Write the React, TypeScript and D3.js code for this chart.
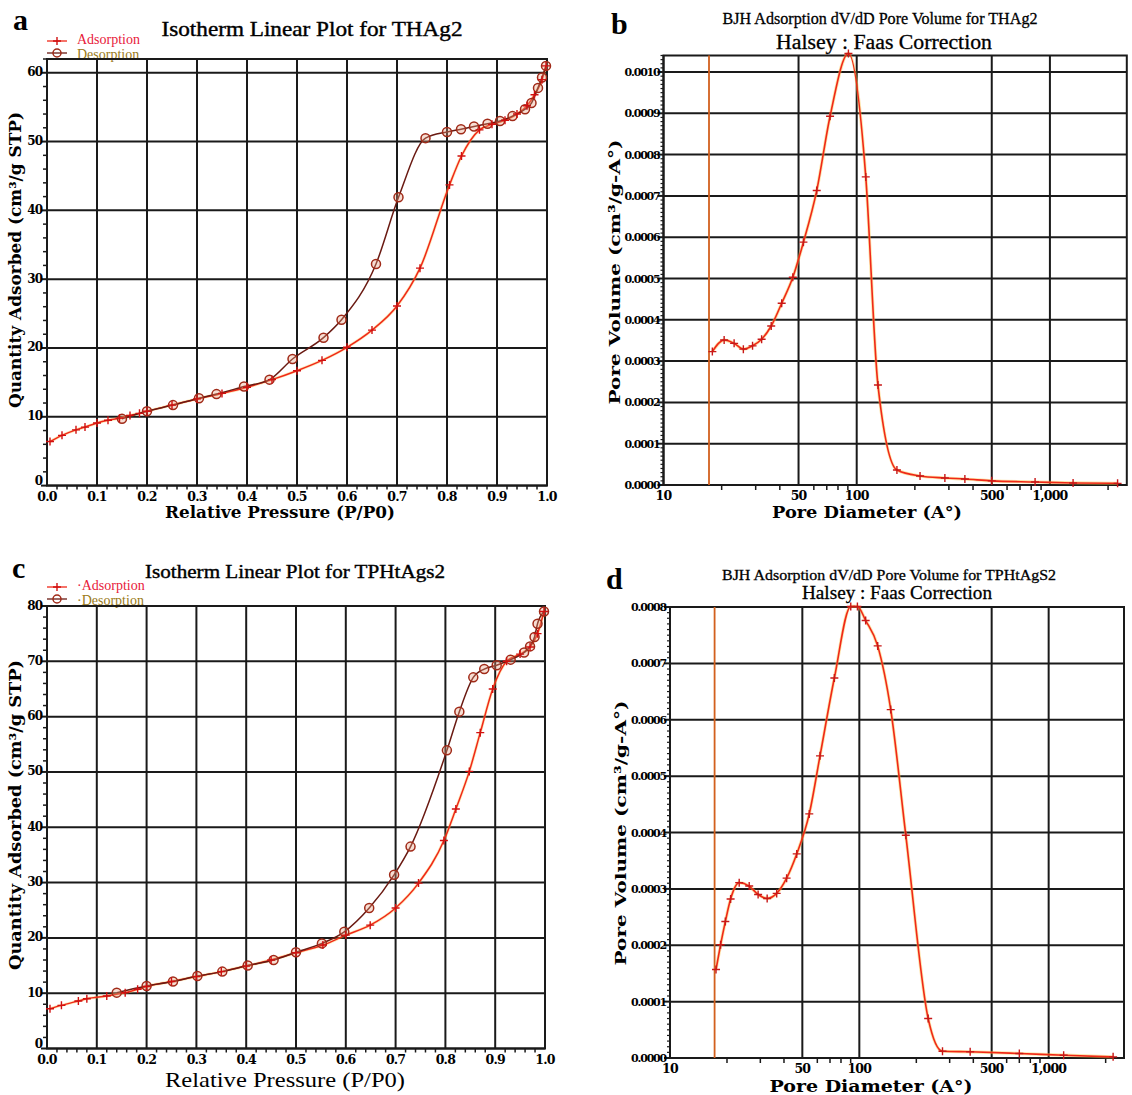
import React from 'react';
import * as d3 from 'd3';

// ---------- Panel a: Isotherm THAg2 ----------
const aAdsP = [0.006, 0.03, 0.058, 0.076, 0.10, 0.122, 0.145, 0.166, 0.185, 0.20, 0.25, 0.30, 0.35, 0.40, 0.45, 0.50, 0.55, 0.60, 0.65, 0.70, 0.746, 0.805, 0.829, 0.865, 0.89, 0.916, 0.94, 0.96, 0.975, 0.99, 0.998];
const aAdsQ = [6.4, 7.3, 8.1, 8.5, 9.1, 9.5, 9.8, 10.2, 10.5, 10.8, 11.7, 12.6, 13.4, 14.3, 15.4, 16.7, 18.2, 20.1, 22.6, 26.1, 31.6, 43.7, 47.9, 51.7, 52.5, 53.1, 54.0, 55.2, 56.8, 59.0, 61.0];
const aDesP = [0.998, 0.99, 0.982, 0.969, 0.956, 0.931, 0.906, 0.881, 0.854, 0.828, 0.80, 0.757, 0.703, 0.658, 0.589, 0.553, 0.491, 0.445, 0.394, 0.339, 0.304, 0.252, 0.20, 0.15];
const aDesQ = [61.0, 59.3, 57.8, 55.6, 54.7, 53.7, 53.0, 52.6, 52.2, 51.8, 51.4, 50.5, 41.9, 32.2, 24.1, 21.5, 18.4, 15.4, 14.4, 13.3, 12.7, 11.7, 10.8, 9.7];

// ---------- Panel c: Isotherm TPHtAgs2 ----------
const cAdsP = [0.006, 0.029, 0.063, 0.08, 0.12, 0.157, 0.182, 0.20, 0.25, 0.30, 0.35, 0.40, 0.45, 0.50, 0.554, 0.60, 0.649, 0.70, 0.746, 0.797, 0.821, 0.848, 0.870, 0.895, 0.923, 0.95, 0.97, 0.985, 0.998];
const cAdsQ = [7.2, 7.8, 8.6, 9.0, 9.5, 10.1, 10.7, 11.2, 12.1, 13.0, 13.9, 14.9, 16.0, 17.3, 18.7, 20.5, 22.3, 25.4, 29.9, 37.6, 43.3, 50.1, 57.1, 65.0, 70.0, 71.3, 72.6, 75.0, 79.0];
const cDesP = [0.998, 0.985, 0.979, 0.970, 0.958, 0.931, 0.903, 0.878, 0.856, 0.828, 0.803, 0.730, 0.697, 0.647, 0.597, 0.552, 0.50, 0.455, 0.403, 0.352, 0.302, 0.253, 0.20, 0.14];
const cDesQ = [79.0, 76.8, 74.4, 72.7, 71.6, 70.3, 69.3, 68.6, 67.1, 60.9, 53.9, 36.5, 31.4, 25.4, 21.1, 19.0, 17.4, 16.0, 15.0, 13.9, 13.1, 12.1, 11.3, 10.1];

// ---------- Panel b: BJH THAg2 ----------
const bD = [17.9, 20.6, 23.2, 25.9, 28.9, 32.2, 36.1, 40.9, 46.7, 53, 62.1, 72.8, 90.6, 111.4, 128.8, 161.5, 212.7, 286, 363, 500, 838, 1318, 2240];
const bV = [0.000323, 0.000351, 0.000343, 0.000329, 0.000337, 0.000353, 0.000385, 0.00044, 0.000503, 0.000588, 0.000713, 0.000893, 0.001045, 0.000746, 0.000242, 0.0000363, 0.0000218, 0.000017, 0.0000145, 0.00001, 0.0000073, 0.000005, 0.000004];

// ---------- Panel d: BJH TPHtAgS2 ----------
const dD = [17.5, 18.5, 19.6, 20.9, 23.2, 26.2, 29.2, 32.6, 36.6, 41.3, 46.7, 54.4, 62, 73.8, 90.1, 97.7, 108, 125, 146.5, 176, 231, 275, 385, 700, 1200, 2190];
const dV = [0.000157, 0.000201, 0.000242, 0.000282, 0.000311, 0.000305, 0.00029, 0.000283, 0.000292, 0.000319, 0.000362, 0.000433, 0.000536, 0.000674, 0.000801, 0.000801, 0.000776, 0.000731, 0.000618, 0.000395, 0.00007, 0.000012, 0.000011, 0.000008, 0.000005, 0.000002];

const isoXTicks = [0, 0.1, 0.2, 0.3, 0.4, 0.5, 0.6, 0.7, 0.8, 0.9, 1.0];
const aYTicks = [0, 10, 20, 30, 40, 50, 60];
const cYTicks = [0, 10, 20, 30, 40, 50, 60, 70, 80];
const bjhXTicks = [10, 50, 100, 500, 1000];
const bYTicks = [0, 0.0001, 0.0002, 0.0003, 0.0004, 0.0005, 0.0006, 0.0007, 0.0008, 0.0009, 0.001];
const dYTicks = [0, 0.0001, 0.0002, 0.0003, 0.0004, 0.0005, 0.0006, 0.0007, 0.0008];

const SERIF = "'Liberation Serif', 'DejaVu Serif', serif";
const BOLDSERIF = "'DejaVu Serif', 'Liberation Serif', serif";
const RED = '#f02818';
const DARK = '#6a1a12';
const GRID = '#1a1a1a';

function Plus({ x, y, c = '#d01010' }) {
  return <path d={`M${x - 4},${y}H${x + 4}M${x},${y - 4}V${y + 4}`} stroke={c} strokeWidth={1.4} />;
}

function Isotherm({ left, right, bottom, top, yMax, yTicks, adsP, adsQ, desP, desQ, xTitleStyle, yTitle, xTitle }) {
  const x = d3.scaleLinear().domain([0, 1]).range([left, right]);
  const y = d3.scaleLinear().domain([0, yMax]).range([bottom, top]);
  const line = d3.line<number>().curve(d3.curveMonotoneX);
  const ads = adsP.map((p, i) => [x(p), y(adsQ[i])] as [number, number]).sort((a, b) => a[0] - b[0]);
  const des = desP.map((p, i) => [x(p), y(desQ[i])] as [number, number]).sort((a, b) => a[0] - b[0]);
  const minorY = d3.range(0, yMax + 0.001, 2).filter(v => v % 10 !== 0);
  const minorX = d3.range(0, 1.0001, 0.02).filter(v => Math.abs(v * 10 - Math.round(v * 10)) > 0.01);
  return (
    <g>
      {isoXTicks.map(t => <line key={'gx' + t} x1={x(t)} x2={x(t)} y1={top} y2={bottom} stroke={GRID} strokeWidth={2} />)}
      {yTicks.map(t => <line key={'gy' + t} x1={left} x2={right} y1={y(t)} y2={y(t)} stroke={GRID} strokeWidth={2} />)}
      <rect x={left} y={top} width={right - left} height={bottom - top} fill="none" stroke={GRID} strokeWidth={2} />
      {minorY.map(t => <line key={'my' + t} x1={left - 4} x2={left} y1={y(t)} y2={y(t)} stroke={GRID} strokeWidth={1.5} />)}
      {minorX.map(t => <line key={'mx' + t} x1={x(t)} x2={x(t)} y1={bottom} y2={bottom + 4} stroke={GRID} strokeWidth={1.5} />)}
      {yTicks.map(t => <line key={'ty' + t} x1={left - 6} x2={left} y1={y(t)} y2={y(t)} stroke={GRID} strokeWidth={2} />)}
      {yTicks.map(t => <text key={'ly' + t} x={left - 5} y={t === 0 ? y(t) - 1 : y(t) + 3.5} textAnchor="end" fontFamily={BOLDSERIF} fontWeight="bold" fontSize={12} letterSpacing={-1}>{t}</text>)}
      {isoXTicks.map(t => <text key={'lx' + t} x={x(t)} y={bottom + 15} textAnchor="middle" fontFamily={BOLDSERIF} fontWeight="bold" fontSize={12.5} letterSpacing={-0.8}>{t.toFixed(1)}</text>)}
      <path d={line(ads) || ''} fill="none" stroke="#f8c040" strokeWidth={3} opacity={0.35} />
      <path d={line(ads) || ''} fill="none" stroke={RED} strokeWidth={1.5} />
      <path d={line(des) || ''} fill="none" stroke={DARK} strokeWidth={1.5} />
      {des.map((p, i) => <circle key={'dc' + i} cx={p[0]} cy={p[1]} r={4.5} fill="#e8a080" fillOpacity={0.35} stroke="#a02a18" strokeWidth={1.5} />)}
      {ads.map((p, i) => <Plus key={'ap' + i} x={p[0]} y={p[1]} />)}
      <text transform={`translate(${yTitle.x},${yTitle.y}) rotate(-90)`} textAnchor="middle" fontFamily={BOLDSERIF} fontWeight="bold" fontSize={16} textLength={yTitle.len} lengthAdjust="spacingAndGlyphs">Quantity Adsorbed (cm³/g STP)</text>
      <text x={xTitle.x} y={xTitle.y} textAnchor="middle" style={xTitleStyle} textLength={xTitle.len} lengthAdjust="spacingAndGlyphs">{xTitle.text}</text>
    </g>
  );
}

function BJH({ left, bottom, top, right, yMax, yTicks, D, V, yTitle, xTitle }) {
  const x = d3.scaleLog().domain([10, 2500]).range([left, right]);
  const y = d3.scaleLinear().domain([0, yMax]).range([bottom, top]);
  const line = d3.line<number>().curve(d3.curveMonotoneX);
  const pts = D.map((d, i) => [x(d), y(V[i])] as [number, number]);
  const minorY = d3.range(0, yMax + 1e-9, 0.00001).filter(v => Math.abs(v * 10000 - Math.round(v * 10000)) > 0.01);
  const minorX: number[] = [];
  [10, 100, 1000].forEach(dec => { for (let k = 2; k <= 9; k++) { const v = dec * k; if (v < 2500 && v !== 50 && v !== 500) minorX.push(v); } });
  const fmtX = d3.format(',');
  return (
    <g>
      {bjhXTicks.map(t => <line key={'gx' + t} x1={x(t)} x2={x(t)} y1={top} y2={bottom} stroke={GRID} strokeWidth={2} />)}
      {yTicks.map(t => <line key={'gy' + t} x1={left} x2={right} y1={y(t)} y2={y(t)} stroke={GRID} strokeWidth={2} />)}
      <rect x={left} y={top} width={right - left} height={bottom - top} fill="none" stroke={GRID} strokeWidth={2} />
      {minorY.map((t, i) => <line key={'my' + i} x1={left - 3} x2={left} y1={y(t)} y2={y(t)} stroke={GRID} strokeWidth={1.2} />)}
      {minorX.map(t => <line key={'mx' + t} x1={x(t)} x2={x(t)} y1={bottom} y2={bottom + 5} stroke={GRID} strokeWidth={1.5} />)}
      {yTicks.map(t => <line key={'ty' + t} x1={left - 6} x2={left} y1={y(t)} y2={y(t)} stroke={GRID} strokeWidth={2} />)}
      {yTicks.map(t => <text key={'ly' + t} x={left - 4} y={y(t) + 4} textAnchor="end" fontFamily={BOLDSERIF} fontWeight="bold" fontSize={11} letterSpacing={-1.2}>{t.toFixed(4)}</text>)}
      {bjhXTicks.map(t => <text key={'lx' + t} x={x(t)} y={bottom + 15} textAnchor="middle" fontFamily={BOLDSERIF} fontWeight="bold" fontSize={12.5} letterSpacing={-0.8}>{fmtX(t)}</text>)}
      <line x1={x(17.2)} x2={x(17.2)} y1={top} y2={bottom} stroke="#d2601e" strokeWidth={1.8} />
      <path d={line(pts) || ''} fill="none" stroke="#f8c040" strokeWidth={3.2} opacity={0.45} />
      <path d={line(pts) || ''} fill="none" stroke={RED} strokeWidth={1.6} />
      {pts.map((p, i) => <Plus key={'bp' + i} x={p[0]} y={p[1]} c="#c81818" />)}
      <text transform={`translate(${yTitle.x},${yTitle.y}) rotate(-90)`} textAnchor="middle" fontFamily={BOLDSERIF} fontWeight="bold" fontSize={15} textLength={yTitle.len} lengthAdjust="spacingAndGlyphs">Pore Volume (cm³/g-A°)</text>
      <text x={xTitle.x} y={xTitle.y} textAnchor="middle" fontFamily={BOLDSERIF} fontWeight="bold" fontSize={16} textLength={xTitle.len} lengthAdjust="spacingAndGlyphs">Pore Diameter (A°)</text>
    </g>
  );
}

function Legend({ x, y1, y2, dot }) {
  return (
    <g>
      <line x1={x} x2={x + 20} y1={y1} y2={y1} stroke={RED} strokeWidth={1.3} />
      <Plus x={x + 10} y={y1} />
      <line x1={x} x2={x + 20} y1={y2} y2={y2} stroke={DARK} strokeWidth={1.3} />
      <circle cx={x + 10} cy={y2} r={4} fill="none" stroke="#a02a18" strokeWidth={1.5} />
      <text x={x + 30} y={y1 + 3} fontFamily={SERIF} fontSize={14} fill="#e8203a">{dot ? '·Adsorption' : 'Adsorption'}</text>
      <text x={x + 30} y={y2 + 6} fontFamily={SERIF} fontSize={14} fill="#9a7a18">{dot ? '·Desorption' : 'Desorption'}</text>
    </g>
  );
}

export default function App() {
  return (
    <svg width={1132} height={1095} style={{ position: 'absolute', left: 0, top: 0, background: '#fff' }}>
      <rect width={1132} height={1095} fill="#fff" />
      {/* Panel letters */}
      <text x={13} y={30} fontFamily={SERIF} fontWeight="bold" fontSize={30}>a</text>
      <text x={611} y={34} fontFamily={SERIF} fontWeight="bold" fontSize={30}>b</text>
      <text x={12} y={578} fontFamily={SERIF} fontWeight="bold" fontSize={30}>c</text>
      <text x={606} y={589} fontFamily={SERIF} fontWeight="bold" fontSize={30}>d</text>

      {/* Titles */}
      <text x={312} y={36} textAnchor="middle" fontFamily={SERIF} fontSize={21} stroke="#000" strokeWidth={0.4} textLength={301} lengthAdjust="spacingAndGlyphs">Isotherm Linear Plot for THAg2</text>
      <text x={880} y={24} textAnchor="middle" fontFamily={SERIF} fontSize={17} stroke="#000" strokeWidth={0.3} textLength={315} lengthAdjust="spacingAndGlyphs">BJH Adsorption dV/dD Pore Volume for THAg2</text>
      <text x={884} y={49} textAnchor="middle" fontFamily={SERIF} fontSize={20} stroke="#000" strokeWidth={0.3} textLength={216} lengthAdjust="spacingAndGlyphs">Halsey : Faas Correction</text>
      <text x={295} y={578} textAnchor="middle" fontFamily={SERIF} fontSize={19} stroke="#000" strokeWidth={0.4} textLength={300} lengthAdjust="spacingAndGlyphs">Isotherm Linear Plot for TPHtAgs2</text>
      <text x={889} y={580} textAnchor="middle" fontFamily={SERIF} fontSize={15} stroke="#000" strokeWidth={0.3} textLength={334} lengthAdjust="spacingAndGlyphs">BJH Adsorption dV/dD Pore Volume for TPHtAgS2</text>
      <text x={897} y={599} textAnchor="middle" fontFamily={SERIF} fontSize={19} stroke="#000" strokeWidth={0.3} textLength={190} lengthAdjust="spacingAndGlyphs">Halsey : Faas Correction</text>

      <Legend x={47} y1={41} y2={53} dot={false} />
      <Legend x={47} y1={587} y2={599} dot={true} />

      <Isotherm left={47} right={547} bottom={485.6} top={59} yMax={62} yTicks={aYTicks}
        adsP={aAdsP} adsQ={aAdsQ} desP={aDesP} desQ={aDesQ}
        yTitle={{ x: 21, y: 260, len: 296 }}
        xTitle={{ x: 280, y: 518, len: 230, text: 'Relative Pressure  (P/P0)' }}
        xTitleStyle={{ fontFamily: BOLDSERIF, fontWeight: 'bold', fontSize: 16 }} />

      <Isotherm left={47} right={545} bottom={1048.5} top={606} yMax={80} yTicks={cYTicks}
        adsP={cAdsP} adsQ={cAdsQ} desP={cDesP} desQ={cDesQ}
        yTitle={{ x: 21, y: 815, len: 310 }}
        xTitle={{ x: 285, y: 1087, len: 240, text: 'Relative Pressure (P/P0)' }}
        xTitleStyle={{ fontFamily: SERIF, fontSize: 22 }} />

      <BJH left={663.5} right={1126.8} bottom={485} top={55.5} yMax={0.00104} yTicks={bYTicks}
        D={bD} V={bV}
        yTitle={{ x: 620, y: 272, len: 265 }}
        xTitle={{ x: 867, y: 518, len: 190 }} />

      <BJH left={670} right={1124} bottom={1058} top={607} yMax={0.0008} yTicks={dYTicks}
        D={dD} V={dV}
        yTitle={{ x: 626, y: 833, len: 265 }}
        xTitle={{ x: 871, y: 1092, len: 203 }} />
    </svg>
  );
}
